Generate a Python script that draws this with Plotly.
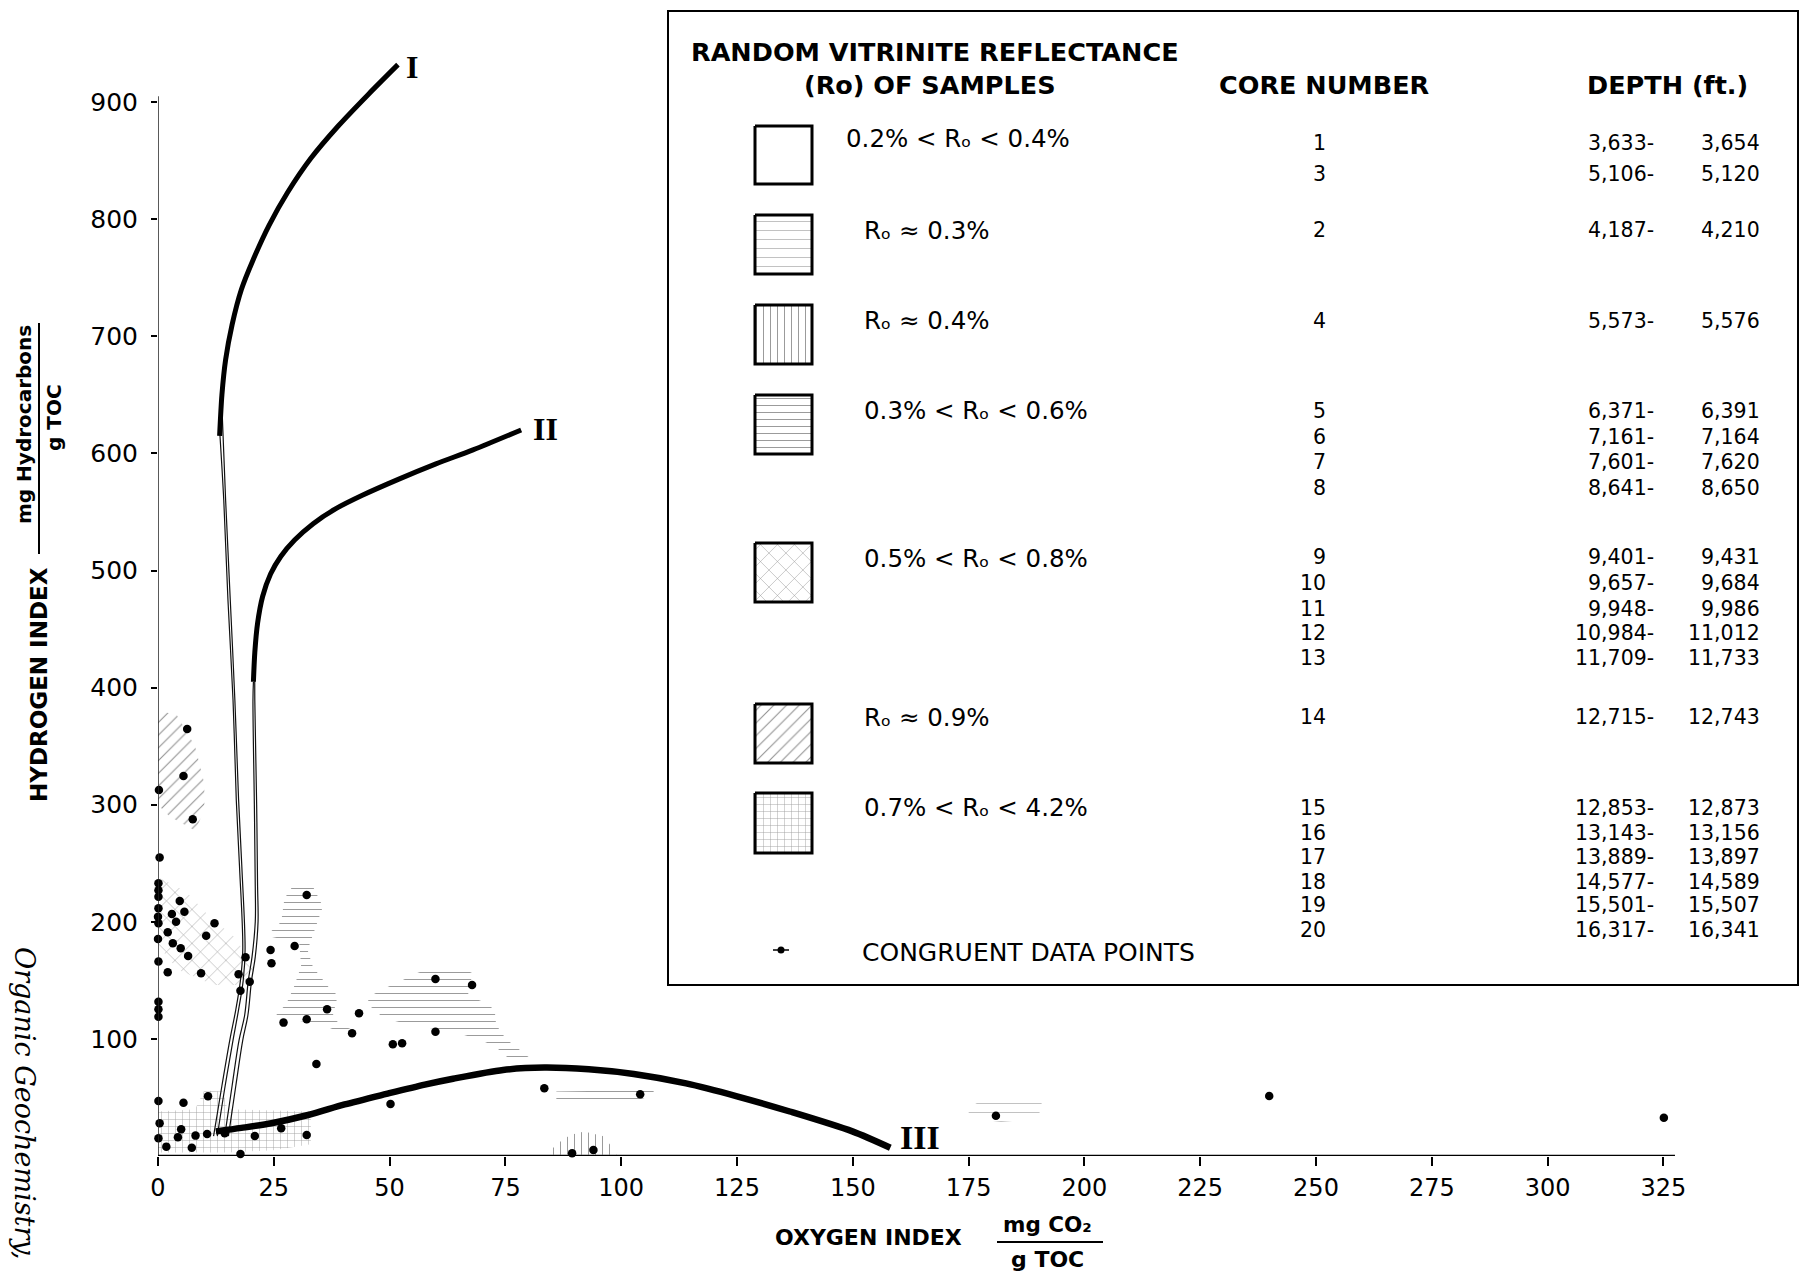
import plotly.graph_objects as go

# ---------------- data ----------------
dot_x = [6.3, 5.5, 0.2, 7.5, 0.35,
         0.1, 0.1, 0.1, 0.1, 0.0, 0.1, 0.0, 0.1,
         4.7, 5.7, 3.0, 3.9, 12.2, 2.1, 10.4, 3.2, 4.9, 6.5, 2.1, 9.3, 17.4, 18.9, 19.8, 17.8, 24.3, 24.5,
         0.1, 0.1, 0.1,
         32.1, 29.5, 36.5, 43.4, 32.1, 27.1, 41.9, 50.7, 52.7, 34.2, 59.9, 67.8, 59.9, 50.2,
         0.1, 5.5, 10.8, 0.35, 5.0, 0.1, 4.3, 8.1, 10.6, 1.8, 7.3, 14.4, 17.8, 20.9, 26.6, 32.1,
         83.4, 104.1, 89.4, 94.0, 180.9, 239.9, 325.1]
dot_y = [364.6, 324.5, 312.6, 287.5, 255,
         233, 227, 221.4, 211.5, 204.4, 198.7, 185.3, 166,
         217.8, 208.6, 206.7, 200, 198.7, 191, 188.1, 181.6, 177.4, 170.8, 156.9, 156, 155.2, 169.7, 148.8, 141.2, 176, 164.6,
         131.8, 125.3, 119,
         222.9, 179.3, 125.3, 121.9, 116.7, 113.9, 104.8, 95.4, 96.2, 78.6, 151.2, 146, 106.2, 44.4,
         47, 45.5, 51, 27.9, 22.8, 15.1, 16, 17.4, 18.8, 8, 7.1, 19.4, 1.7, 17.1, 23.6, 17.9,
         57.8, 52.7, 2.3, 5.1, 34.4, 51.2, 32.7]

# evolution paths (thick)
curve_I_x = [13.3, 13.8, 14.6, 16.0, 18.0, 20.5, 24.0, 28.0, 33.0, 39.0, 45.5, 51.8]
curve_I_y = [615, 650, 680, 710, 740, 765, 795, 823, 852, 880, 907, 932]
curve_II_x = [20.6, 20.9, 21.5, 22.6, 24.3, 26.5, 29.5, 33.5, 38.5, 44.0, 52.0, 60.0, 68.0, 78.4]
curve_II_y = [405, 430, 455, 478, 497, 512, 526, 540, 553, 564, 578, 591, 603, 620]
curve_III_x = [12.5, 18.0, 24.5, 32.4, 40.3, 49.3, 57.6, 63.7, 74.5, 83.4, 93.0, 102.7, 114.0, 125.0, 136.4, 149.9, 158.1]
curve_III_y = [21, 24, 28, 35, 44, 53, 61, 66, 73.5, 75.5, 74, 70, 62, 51, 38, 21, 7]

# thin continuations toward the origin
thin_I_x = [13.3, 14.2, 15.1, 16.2, 16.9, 17.6, 18.3, 17.8, 16.8, 15.5, 13.8, 12.0]
thin_I_y = [620, 560, 475, 389, 304, 247, 176, 150, 125, 99, 60, 17]
thin_I2_x = [13.8, 14.6, 15.6, 16.6, 17.4, 18.1, 18.8, 18.4, 17.4, 16.2, 14.5, 12.8]
thin_I2_y = [640, 560, 475, 389, 304, 247, 176, 150, 125, 99, 60, 17]
thin_II_x = [20.6, 20.5, 20.8, 21.0, 21.0, 20.3, 19.5, 18.7, 17.5, 16.0, 14.4]
thin_II_y = [405, 389, 300, 230, 200, 170, 150, 120, 99, 60, 17]
thin_II2_x = [20.9, 20.9, 21.3, 21.5, 21.6, 21.0, 20.2, 19.4, 18.3, 16.8, 15.2]
thin_II2_y = [420, 389, 300, 230, 200, 170, 150, 120, 99, 60, 17]

# shaded sample areas (one polygon per area)
reg09_x = [0, 4, 8, 10, 10, 8, 2.5, 0]
reg09_y = [380, 377, 350, 318, 295, 278, 290, 300]
reg0508_x = [0, 6, 11, 16.5, 21, 19, 12, 4.3, 0]
reg0508_y = [238, 226, 205, 187, 160, 146, 146, 159, 180]
reg0306a_x = [29.5, 27.3, 26.6, 23.4, 30.5, 30.9, 29.3, 27.7, 25.2, 35.5, 39, 43, 39.4, 37.7, 38.8, 36.9, 34.5, 33.4, 32.3, 33.4, 34.4, 35.6, 33.1]
reg0306a_y = [233, 220, 200, 188, 182, 162, 144, 130, 119, 112, 106, 106, 112, 119, 137, 144, 156, 162, 176, 188, 200, 213, 233]
reg0306b_x = [60, 65, 67.9, 66.9, 71.2, 72.7, 73, 74.1, 75.2, 77.4, 79.1, 81.3, 76.6, 74.5, 73, 69.4, 63.7, 54.3, 48.5, 47.1, 45, 46, 49.3, 52.2, 55.8]
reg0306b_y = [162, 162, 156, 137, 130, 124, 112, 106, 99.5, 93, 87, 81, 81, 87, 93, 99.5, 106, 112, 118, 124, 130, 137, 144, 149, 156]
reg0306c_x = [86, 86, 100, 107, 107, 102]
reg0306c_y = [45.5, 55, 56, 58, 52, 45.5]
reg04_x = [84, 86, 89, 92, 96, 98, 99]
reg04_y = [1, 10, 18, 21, 17, 8, 1]
reg03_x = [174.5, 178, 185, 190.8, 190, 182, 176]
reg03_y = [40, 48, 50, 45, 32, 29, 32]
reg0742_x = [0, 0, 8, 10, 14, 15, 33, 33, 25, 15]
reg0742_y = [3, 38, 40, 56, 55, 40, 38, 10, 5, 3]

x_ticks = [0, 25, 50, 75, 100, 125, 150, 175, 200, 225, 250, 275, 300, 325]
y_ticks = [100, 200, 300, 400, 500, 600, 700, 800, 900]

ro_labels = ["0.2% < Rₒ < 0.4%", "Rₒ ≈ 0.3%", "Rₒ ≈ 0.4%",
             "0.3% < Rₒ < 0.6%", "0.5% < Rₒ < 0.8%", "Rₒ ≈ 0.9%",
             "0.7% < Rₒ < 4.2%"]
core_numbers = ["1", "3", "2", "4", "5", "6", "7", "8", "9", "10", "11", "12", "13", "14",
                "15", "16", "17", "18", "19", "20"]
depth_from = ["3,633-", "5,106-", "4,187-", "5,573-",
              "6,371-", "7,161-", "7,601-", "8,641-",
              "9,401-", "9,657-", "9,948-", "10,984-", "11,709-",
              "12,715-",
              "12,853-", "13,143-", "13,889-", "14,577-", "15,501-", "16,317-"]
depth_to = ["3,654", "5,120", "4,210", "5,576",
            "6,391", "7,164", "7,620", "8,650",
            "9,431", "9,684", "9,986", "11,012", "11,733",
            "12,743",
            "12,873", "13,156", "13,897", "14,589", "15,507", "16,341"]

# ---------------- layout geometry (pixels) ----------------
FW, FH = 1811, 1271
L, T, R, B = 158, 10, 124, 115
PW, PH = FW - L - R, FH - T - B
X_PER_PX = 1 / 4.632
Y_PER_PX = 1 / 1.171
x_range = [0, PW * X_PER_PX]
y_range = [0, PH * Y_PER_PX]


def pxx(p):
    return (p - L) / PW


def pxy(p):
    return (T + PH - p) / PH


SANS = "DejaVu Sans"
fig = go.Figure()

pat = {
    "09": dict(shape="/", size=9, solidity=0.12, fgcolor="#222"),
    "0508": dict(shape="x", size=12, solidity=0.08, fgcolor="#222"),
    "0306": dict(shape="-", size=7, solidity=0.14, fgcolor="#333"),
    "04": dict(shape="|", size=7, solidity=0.14, fgcolor="#333"),
    "03": dict(shape="-", size=9, solidity=0.1, fgcolor="#777"),
    "0742": dict(shape="+", size=7, solidity=0.12, fgcolor="#333"),
}

regions = [(reg09_x, reg09_y, "09"), (reg0508_x, reg0508_y, "0508"),
           (reg0306a_x, reg0306a_y, "0306"), (reg0306b_x, reg0306b_y, "0306"),
           (reg0306c_x, reg0306c_y, "0306"), (reg04_x, reg04_y, "04"),
           (reg03_x, reg03_y, "03"), (reg0742_x, reg0742_y, "0742")]
for rx, ry, key in regions:
    fig.add_trace(go.Scatter(x=rx + [rx[0]], y=ry + [ry[0]], mode="lines", fill="toself",
                             line=dict(width=0, color="rgba(0,0,0,0)"),
                             fillcolor="rgba(255,255,255,0)", fillpattern=pat[key],
                             hoverinfo="skip", showlegend=False))

for tx, ty in [(thin_I_x, thin_I_y), (thin_I2_x, thin_I2_y), (thin_II_x, thin_II_y), (thin_II2_x, thin_II2_y)]:
    fig.add_trace(go.Scatter(x=tx, y=ty, mode="lines", line=dict(color="#111", width=1.2, shape="spline"),
                             showlegend=False, hoverinfo="skip"))

fig.add_trace(go.Scatter(x=curve_I_x, y=curve_I_y, mode="lines", line=dict(color="black", width=5, shape="spline", smoothing=0.8), showlegend=False))
fig.add_trace(go.Scatter(x=curve_II_x, y=curve_II_y, mode="lines", line=dict(color="black", width=5, shape="spline", smoothing=0.8), showlegend=False))
fig.add_trace(go.Scatter(x=curve_III_x, y=curve_III_y, mode="lines", line=dict(color="black", width=6.5, shape="spline", smoothing=0.8), showlegend=False))

fig.add_trace(go.Scatter(x=dot_x, y=dot_y, mode="markers", marker=dict(color="black", size=8.5),
                         cliponaxis=False, showlegend=False))

# ---- legend swatches on a pixel-unit overlay axis ----
sw_x0, sw_x1 = 755, 812
sw_rows = [(126, 184, None), (215, 274, "03"), (305, 364, "04"), (395, 454, "0306"),
           (543, 602, "0508"), (704, 763, "09"), (793, 853, "0742")]
for y0, y1, key in sw_rows:
    kw = dict(fillpattern=pat[key]) if key else {}
    fig.add_trace(go.Scatter(x=[sw_x0, sw_x1, sw_x1, sw_x0, sw_x0], y=[y0, y0, y1, y1, y0],
                             xaxis="x2", yaxis="y2", mode="lines", fill="toself",
                             fillcolor="rgba(255,255,255,0)", line=dict(color="black", width=3),
                             showlegend=False, hoverinfo="skip", **kw))
fig.add_trace(go.Scatter(x=[773, 789], y=[950, 950], xaxis="x2", yaxis="y2", mode="lines",
                         line=dict(color="black", width=1.5), showlegend=False, hoverinfo="skip"))
fig.add_trace(go.Scatter(x=[781], y=[950], xaxis="x2", yaxis="y2", mode="markers",
                         marker=dict(color="black", size=7), showlegend=False, hoverinfo="skip"))

shapes = [
    dict(type="line", xref="x", yref="y", x0=0, x1=0, y0=0, y1=905, line=dict(color="#222", width=1.5)),
    dict(type="line", xref="x", yref="y", x0=0, x1=327.5, y0=0, y1=0, line=dict(color="black", width=2.5)),
    dict(type="rect", xref="paper", yref="paper", x0=pxx(668), x1=pxx(1798), y0=pxy(985), y1=pxy(11),
         line=dict(color="black", width=2)),
    dict(type="line", xref="paper", yref="paper", x0=pxx(997), x1=pxx(1103), y0=pxy(1242), y1=pxy(1242),
         line=dict(color="black", width=2)),
    dict(type="line", xref="paper", yref="paper", x0=pxx(39), x1=pxx(39), y0=pxy(554), y1=pxy(323),
         line=dict(color="black", width=2)),
]

ann = []


def txt(text, x, y, size, xanchor="center", weight="normal", family=SANS, angle=0, style="normal"):
    ann.append(dict(text=text, x=pxx(x), y=pxy(y), xref="paper", yref="paper", showarrow=False,
                    xanchor=xanchor, yanchor="middle", textangle=angle,
                    font=dict(family=family, size=size, color="black", weight=weight, style=style)))


# legend header
txt("RANDOM VITRINITE REFLECTANCE", 689, 52, 25.5, "left", "bold")
txt("(Ro) OF SAMPLES", 930, 85, 25.5, "center", "bold")
txt("CORE NUMBER", 1324, 85, 25.5, "center", "bold")
txt("DEPTH (ft.)", 1667, 85, 25.5, "center", "bold")

ro_pos = [(844, 138), (862, 230), (862, 321), (862, 410), (862, 558), (862, 717), (862, 807)]
for lab, (lx, ly) in zip(ro_labels, ro_pos):
    txt(lab, lx, ly, 24.5, "left")

row_y = [143, 174, 230, 321, 411, 437, 462, 488, 557, 583, 609, 633, 658, 717,
         808, 833, 857, 882, 905, 930]
for cn, d0, d1, ry in zip(core_numbers, depth_from, depth_to, row_y):
    txt(cn, 1328, ry, 20.5, "right")
    txt(d0, 1656, ry, 20.5, "right")
    txt(d1, 1762, ry, 20.5, "right")
txt("CONGRUENT DATA POINTS", 860, 952, 25, "left")

# axis titles
txt("OXYGEN INDEX", 868, 1237, 22, "center", "bold")
txt("mg CO₂", 1047, 1224, 21.5, "center", "bold")
txt("g TOC", 1047, 1259, 22, "center", "bold")
txt("HYDROGEN INDEX", 39, 685, 23, "center", "bold", angle=-90)
txt("mg Hydrocarbons", 24, 425, 20, "center", "bold", angle=-90)
txt("g TOC", 54, 418, 20, "center", "bold", angle=-90)
txt("Organic Geochemistry,", 25, 1103, 27, "center", "normal", family="DejaVu Serif", angle=90, style="italic")

for lab, lx, ly, sz in [("I", 54.9, 930, 32), ("II", 83.6, 621, 32), ("III", 164.6, 16, 34)]:
    ann.append(dict(text=lab, x=lx, y=ly, xref="x", yref="y", showarrow=False,
                    xanchor="center", yanchor="middle",
                    font=dict(family="Liberation Serif", size=sz, color="black", weight="bold")))

fig.update_layout(
    width=FW, height=FH, margin=dict(l=L, r=R, t=T, b=B, autoexpand=False),
    paper_bgcolor="white", plot_bgcolor="white",
    xaxis=dict(range=x_range, tickvals=x_ticks, ticktext=[str(v) for v in x_ticks],
               showgrid=False, zeroline=False, showline=False, ticks="outside", ticklen=9,
               tickwidth=2, tickcolor="black", ticklabelstandoff=1,
               tickfont=dict(family=SANS, size=24, color="black")),
    yaxis=dict(range=y_range, tickvals=y_ticks, ticktext=[str(v) for v in y_ticks],
               showgrid=False, zeroline=False, showline=False, ticks="outside", ticklen=6,
               tickwidth=1.5, tickcolor="black", ticklabelstandoff=8,
               tickfont=dict(family=SANS, size=25, color="black")),
    xaxis2=dict(range=[L, L + PW], overlaying="x", visible=False),
    yaxis2=dict(range=[T + PH, T], overlaying="y", visible=False),
    shapes=shapes, annotations=ann,
)

fig.write_html("out.html", config={"displayModeBar": False},
               post_script="document.body.style.margin='0';")
